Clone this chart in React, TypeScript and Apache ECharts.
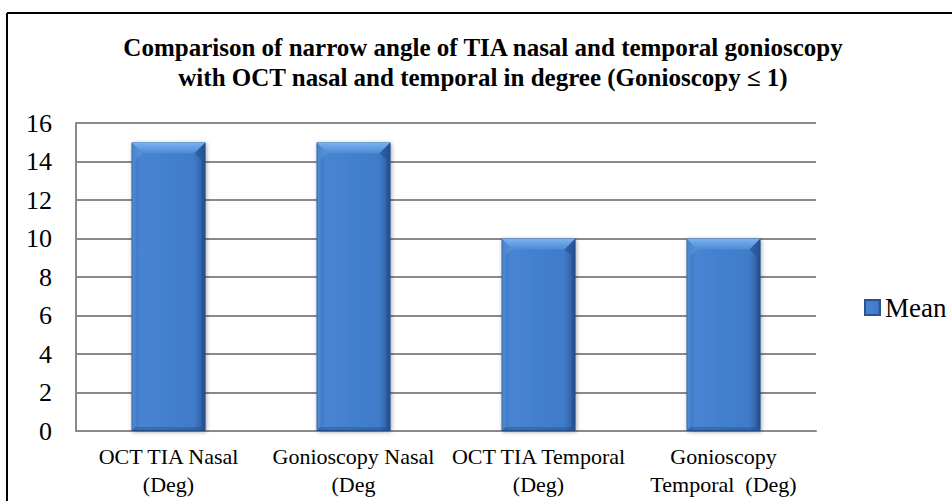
import React, { useEffect, useRef } from "react";
import * as echarts from "echarts";

const categories = [
  "OCT TIA Nasal\n(Deg)",
  "Gonioscopy Nasal\n(Deg",
  "OCT TIA Temporal\n(Deg)",
  "Gonioscopy\nTemporal  (Deg)",
];
const meanValues = [15, 15, 10, 10];
const seriesName = "Mean";
const titleLines = [
  "Comparison of narrow angle of TIA nasal and temporal gonioscopy",
  "with OCT nasal and temporal in degree (Gonioscopy \u2264 1)",
];

const FONT = "Liberation Serif, Times New Roman, DejaVu Serif, serif";
const BAR_FRAC = 0.4;

export default function App() {
  const ref = useRef<HTMLDivElement>(null);
  useEffect(() => {
    if (!ref.current) return;
    const chart = echarts.init(ref.current, null, { renderer: "svg" });
    const barColor = new echarts.graphic.LinearGradient(0, 0, 1, 0, [
      { offset: 0, color: "#3a72bd" },
      { offset: 0.12, color: "#4784d2" },
      { offset: 0.85, color: "#3f7bc8" },
      { offset: 1, color: "#2c5b9c" },
    ]);
    chart.setOption({
      animation: false,
      backgroundColor: "#ffffff",
      title: {
        text: titleLines.join("\n"),
        left: 478,
        textAlign: "center",
        top: 27,
        textStyle: {
          fontFamily: FONT,
          fontWeight: "bold",
          fontSize: 25,
          lineHeight: 30,
          color: "#000",
        },
      },
      graphic: [
        {
          type: "line",
          shape: { x1: 7, y1: 13, x2: 960, y2: 13 },
          style: { stroke: "#000", lineWidth: 2 },
          silent: true,
        },
        {
          type: "line",
          shape: { x1: 7, y1: 13, x2: 7, y2: 510 },
          style: { stroke: "#000", lineWidth: 2 },
          silent: true,
        },
      ],
      legend: {
        orient: "vertical",
        left: 859,
        top: 289,
        itemWidth: 15,
        itemHeight: 15,
        itemGap: 5,
        textStyle: { fontFamily: FONT, fontSize: 27, color: "#000" },
        data: [{ name: seriesName, icon: "rect" }],
      },
      grid: { left: 76, right: 136, top: 123, bottom: 70 },
      xAxis: {
        type: "category",
        data: categories,
        axisLine: { lineStyle: { color: "#8a8a8a", width: 2 } },
        axisTick: { show: false },
        axisLabel: {
          interval: 0,
          fontFamily: FONT,
          fontSize: 22,
          lineHeight: 28,
          color: "#000",
          margin: 11,
        },
      },
      yAxis: {
        type: "value",
        min: 0,
        max: 16,
        interval: 2,
        axisLine: { show: true, lineStyle: { color: "#8a8a8a", width: 2 } },
        axisTick: { show: false },
        splitLine: { lineStyle: { color: "#8a8a8a", width: 2 } },
        axisLabel: {
          fontFamily: FONT,
          fontSize: 26,
          color: "#000",
          margin: 24,
        },
      },
      series: [
        {
          name: seriesName,
          type: "bar",
          data: meanValues,
          barWidth: BAR_FRAC * 100 + "%",
          itemStyle: {
            color: barColor,
            borderColor: "#2a5590",
            borderWidth: 1,
            shadowColor: "rgba(0,0,0,0.35)",
            shadowBlur: 4,
            shadowOffsetX: 1,
            shadowOffsetY: 1,
          },
        },
        {
          name: "bevel",
          type: "custom",
          data: meanValues.map((v, i) => [i, v]),
          silent: true,
          z: 3,
          renderItem: (params: any, api: any) => {
            const idx = api.value(0);
            const val = api.value(1);
            const top = api.coord([idx, val]);
            const base = api.coord([idx, 0]);
            const w = api.size([1, 0])[0] * BAR_FRAC;
            const x0 = top[0] - w / 2;
            const x1 = top[0] + w / 2;
            const y0 = top[1];
            const y1 = base[1];
            const b = 11;
            return {
              type: "group",
              children: [
                {
                  type: "polygon",
                  shape: {
                    points: [
                      [x0, y0],
                      [x1, y0],
                      [x1 - b, y0 + b],
                      [x0 + b, y0 + b],
                    ],
                  },
                  style: {
                    fill: new echarts.graphic.LinearGradient(0, 0, 0, 1, [
                      { offset: 0, color: "#7db3ef" },
                      { offset: 1, color: "#4d8ad6" },
                    ]),
                  },
                },
                {
                  type: "polygon",
                  shape: {
                    points: [
                      [x0, y0],
                      [x0 + b, y0 + b],
                      [x0 + 4, y0 + b + 6],
                      [x0 + 4, y1 - 4],
                      [x0, y1],
                    ],
                  },
                  style: { fill: "rgba(110,165,230,0.35)" },
                },
                {
                  type: "polygon",
                  shape: {
                    points: [
                      [x1, y0],
                      [x1 - b, y0 + b],
                      [x1 - 4, y0 + b + 6],
                      [x1 - 4, y1 - 4],
                      [x1, y1],
                    ],
                  },
                  style: { fill: "rgba(25,60,120,0.35)" },
                },
                {
                  type: "polygon",
                  shape: {
                    points: [
                      [x0, y1],
                      [x0 + 4, y1 - 4],
                      [x1 - 4, y1 - 4],
                      [x1, y1],
                    ],
                  },
                  style: { fill: "rgba(25,60,120,0.3)" },
                },
              ],
            };
          },
        },
      ],
    });
    return () => chart.dispose();
  }, []);
  return (
    <div
      ref={ref}
      style={{ position: "absolute", left: 0, top: 0, width: 952, height: 501 }}
    />
  );
}
